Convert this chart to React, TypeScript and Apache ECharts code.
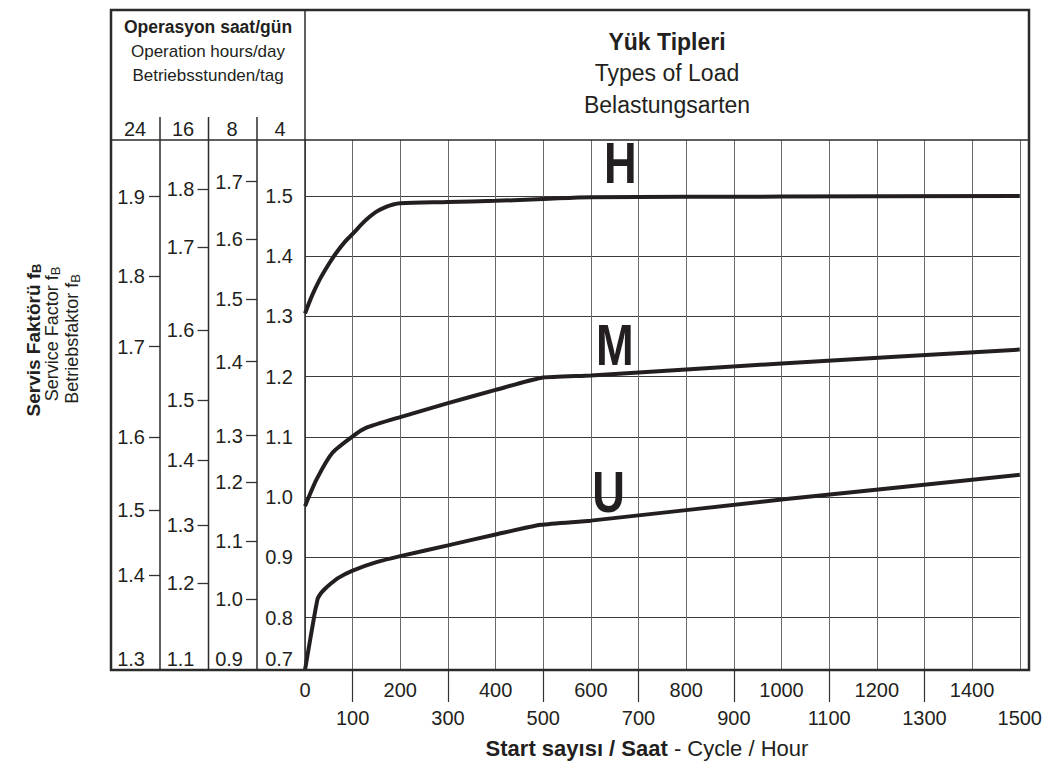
import React, { useEffect, useRef } from 'react';
import * as echarts from 'echarts';

// ---- data ----
const xMin = 0;
const xMax = 1500;
// extent of the main ("4 h/day") service-factor scale as drawn
const yMin = 0.713;
const yMax = 1.593;

const xEvenLabels = [0, 200, 400, 600, 800, 1000, 1200, 1400];
const xOddLabels = [100, 300, 500, 700, 900, 1100, 1300, 1500];
const xOddTicks = [100, 300, 500, 700, 900, 1100, 1300];

const hX = [0, 15, 30, 50, 65, 85, 100, 120, 135, 150, 170, 185, 200, 300, 400, 500, 600, 1000, 1500];
const hY = [1.305, 1.335, 1.36, 1.387, 1.405, 1.425, 1.437, 1.454, 1.465, 1.474, 1.482, 1.486, 1.488, 1.49, 1.492, 1.495, 1.498, 1.499, 1.5];

const mX = [0, 24, 58, 100, 128, 200, 300, 400, 495, 600, 1000, 1500];
const mY = [0.985, 1.029, 1.074, 1.101, 1.115, 1.133, 1.156, 1.178, 1.198, 1.202, 1.222, 1.245];

const uX = [0, 26, 33, 41, 55, 70, 100, 150, 200, 300, 400, 495, 600, 1000, 1500];
const uY = [0.713, 0.83, 0.84, 0.847, 0.857, 0.866, 0.878, 0.892, 0.902, 0.92, 0.938, 0.954, 0.961, 0.996, 1.037];

const curveNames = ['H', 'M', 'U'];
const curveLabelX = [662, 650, 637];
const curveLabelY = [1.555, 1.252, 1.009];

const hoursLabels = ['24', '16', '8', '4'];
const bottomLabels = ['1.3', '1.1', '0.9', '0.7'];

const scale24Labels = ['1.9', '1.8', '1.7', '1.6', '1.5', '1.4'];
const scale24At = [1.499, 1.367, 1.25, 1.1, 0.979, 0.87];
const scale16Labels = ['1.8', '1.7', '1.6', '1.5', '1.4', '1.3', '1.2'];
const scale16At = [1.511, 1.415, 1.277, 1.161, 1.062, 0.953, 0.857];
const scale8Labels = ['1.7', '1.6', '1.5', '1.4', '1.3', '1.2', '1.1', '1.0'];
const scale8At = [1.524, 1.429, 1.329, 1.225, 1.102, 1.025, 0.927, 0.831];
const scale4Labels = ['1.5', '1.4', '1.3', '1.2', '1.1', '1.0', '0.9', '0.8'];
const scale4At = [1.5, 1.4, 1.3, 1.2, 1.1, 1.0, 0.9, 0.8];

// ---- styles ----
const NUM_FONT = '"Liberation Sans", Arial, sans-serif';
const TXT_FONT = '"Liberation Sans", Arial, sans-serif';
const INK = '#231f20';
const NUM_SIZE = 20;

function leftAxis(labels: string[], at: number[], bottom: string, offset: number, ticks: boolean, margin: number, bottomShift: number) {
  return {
    type: 'value',
    gridIndex: 0,
    position: 'left',
    offset,
    min: yMin,
    max: yMax,
    axisLine: { show: false },
    axisTick: {
      show: ticks,
      inside: false,
      customValues: at,
      length: 11,
      lineStyle: { color: '#333', width: 1.3 },
    },
    splitLine: offset === 0 ? { show: true, lineStyle: { color: '#3c3c3c', width: 1 } } : { show: false },
    axisLabel: {
      customValues: [yMin, ...at],
      margin,
      color: INK,
      fontSize: NUM_SIZE,
      fontFamily: NUM_FONT,
      formatter: (value: number) => {
        if (Math.abs(value - yMin) < 1e-9) return `{bot|${bottom}}`;
        const i = at.findIndex((a) => Math.abs(a - value) < 1e-9);
        return i >= 0 ? labels[i] : '';
      },
      rich: {
        bot: { fontSize: NUM_SIZE, fontFamily: NUM_FONT, color: INK, padding: [0, 0, 22, 0], align: 'right', width: 30 - bottomShift },
      },
    },
  };
}

const line = (x1: number, y1: number, x2: number, y2: number, w: number) => ({
  type: 'line',
  z: 100,
  shape: { x1, y1, x2, y2 },
  style: { stroke: '#2b2b2b', lineWidth: w },
  silent: true,
});

const text = (x: number, y: number, t: string, size: number, bold: boolean, font = TXT_FONT) => ({
  type: 'text',
  z: 100,
  x,
  y,
  silent: true,
  style: {
    text: t,
    fill: INK,
    fontSize: size,
    fontWeight: bold ? 'bold' : 'normal',
    fontFamily: font,
    align: 'center',
    verticalAlign: 'middle',
  },
});

const rotTitle = (x: number, y: number, main: string, bold: boolean, size: number) => ({
  type: 'text',
  z: 100,
  x,
  y,
  rotation: Math.PI / 2,
  silent: true,
  style: {
    text: `{a|${main}}{s|B}`,
    align: 'center',
    verticalAlign: 'middle',
    rich: {
      a: { fontSize: size, fontWeight: bold ? 'bold' : 'normal', fontFamily: TXT_FONT, fill: INK, lineHeight: 20 },
      s: { fontSize: 13, fontWeight: bold ? 'bold' : 'normal', fontFamily: TXT_FONT, fill: INK, lineHeight: 10, verticalAlign: 'bottom' },
    },
  },
});

const curveStyle = { width: 4, color: INK };

export default function App() {
  const ref = useRef<HTMLDivElement>(null);
  useEffect(() => {
    if (!ref.current) return;
    const chart = echarts.init(ref.current, undefined, { renderer: 'svg' });
    const colCenters = [135, 183, 232, 280];
    const baseGraphic: any[] = [
      {
        type: 'rect',
        z: 100,
        silent: true,
        shape: { x: 111, y: 10, width: 918, height: 660 },
        style: { fill: 'none', stroke: '#2b2b2b', lineWidth: 2.5 },
      },
      line(111, 140, 1029, 140, 1.5),
      line(305, 10, 305, 670, 1.5),
      line(160, 117, 160, 670, 1.5),
      line(208.5, 117, 208.5, 670, 1.5),
      line(257, 117, 257, 670, 1.5),
      text(208, 27, 'Operasyon saat/gün', 17.5, true),
      text(208, 51, 'Operation hours/day', 17, false),
      text(208, 75, 'Betriebsstunden/tag', 17, false),
      ...hoursLabels.map((h, i) => text(colCenters[i], 129, h, NUM_SIZE, false, NUM_FONT)),
      text(667, 42, 'Yük Tipleri', 23, true),
      text(667, 73, 'Types of Load', 23, false),
      text(667, 105, 'Belastungsarten', 23, false),
      rotTitle(33, 340, 'Servis Faktörü f', true, 19),
      rotTitle(52, 334, 'Service Factor f', false, 18),
      rotTitle(72, 339, 'Betriebsfaktor f', false, 18),
      {
        type: 'text',
        z: 100,
        x: 647,
        y: 748,
        silent: true,
        style: {
          text: '{b|Start sayısı / Saat}{r| - Cycle / Hour}',
          align: 'center',
          verticalAlign: 'middle',
          rich: {
            b: { fontSize: 22, fontWeight: 'bold', fontFamily: TXT_FONT, fill: INK },
            r: { fontSize: 22, fontWeight: 'normal', fontFamily: TXT_FONT, fill: INK },
          },
        },
      },
    ];
    const option: any = {
      animation: false,
      backgroundColor: '#fff',
      grid: { left: 305, top: 140, right: 16, bottom: 94, containLabel: false },
      xAxis: [
        {
          type: 'value',
          min: xMin,
          max: xMax,
          interval: 100,
          position: 'bottom',
          axisLine: { show: false },
          axisTick: { show: false },
          splitLine: { show: true, lineStyle: { color: '#6a6a6a', width: 1 } },
          axisLabel: {
            customValues: xEvenLabels,
            margin: 10,
            color: INK,
            fontSize: NUM_SIZE,
            fontFamily: NUM_FONT,
            formatter: (v: number) => String(v),
          },
        },
        {
          type: 'value',
          min: xMin,
          max: xMax,
          position: 'bottom',
          axisLine: { show: false },
          axisTick: { show: true, customValues: xOddTicks, length: 32, lineStyle: { color: '#333', width: 1.2 } },
          splitLine: { show: false },
          axisLabel: {
            customValues: xOddLabels,
            margin: 38,
            color: INK,
            fontSize: NUM_SIZE,
            fontFamily: NUM_FONT,
            formatter: (v: number) => String(v),
          },
        },
      ],
      yAxis: [
        leftAxis(scale4Labels, scale4At, bottomLabels[3], 0, false, 12, 0),
        { type: 'value', gridIndex: 0, show: false, min: yMin, max: yMax },
        leftAxis(scale8Labels, scale8At, bottomLabels[2], 48, true, 14, 3),
        leftAxis(scale16Labels, scale16At, bottomLabels[1], 96.5, true, 14, 2),
        leftAxis(scale24Labels, scale24At, bottomLabels[0], 145, true, 15, 3),
      ],
      series: [
        { name: 'H', type: 'line', data: hX.map((x, i) => [x, hY[i]]), showSymbol: false, smooth: 0.3, lineStyle: curveStyle, itemStyle: { color: INK }, z: 5 },
        { name: 'M', type: 'line', data: mX.map((x, i) => [x, mY[i]]), showSymbol: false, smooth: 0.2, lineStyle: curveStyle, itemStyle: { color: INK }, z: 5 },
        { name: 'U', type: 'line', data: uX.map((x, i) => [x, uY[i]]), showSymbol: false, smooth: 0.2, lineStyle: curveStyle, itemStyle: { color: INK }, z: 5 },
      ],
      graphic: baseGraphic,
    };
    chart.setOption(option);
    const letters = curveNames.map((n, i) => {
      const p = chart.convertToPixel({ xAxisIndex: 0, yAxisIndex: 0 }, [curveLabelX[i], curveLabelY[i]]) as number[];
      return {
        type: 'text',
        z: 100,
        x: p[0],
        y: p[1],
        scaleX: 0.78,
        silent: true,
        style: {
          text: n,
          fill: INK,
          fontSize: 58,
          fontWeight: 'bold',
          fontFamily: TXT_FONT,
          align: 'center',
          verticalAlign: 'middle',
        },
      };
    });
    chart.setOption({ graphic: [...baseGraphic, ...letters] });
    return () => chart.dispose();
  }, []);
  return <div ref={ref} style={{ position: 'absolute', left: 0, top: 0, width: 1045, height: 764 }} />;
}
